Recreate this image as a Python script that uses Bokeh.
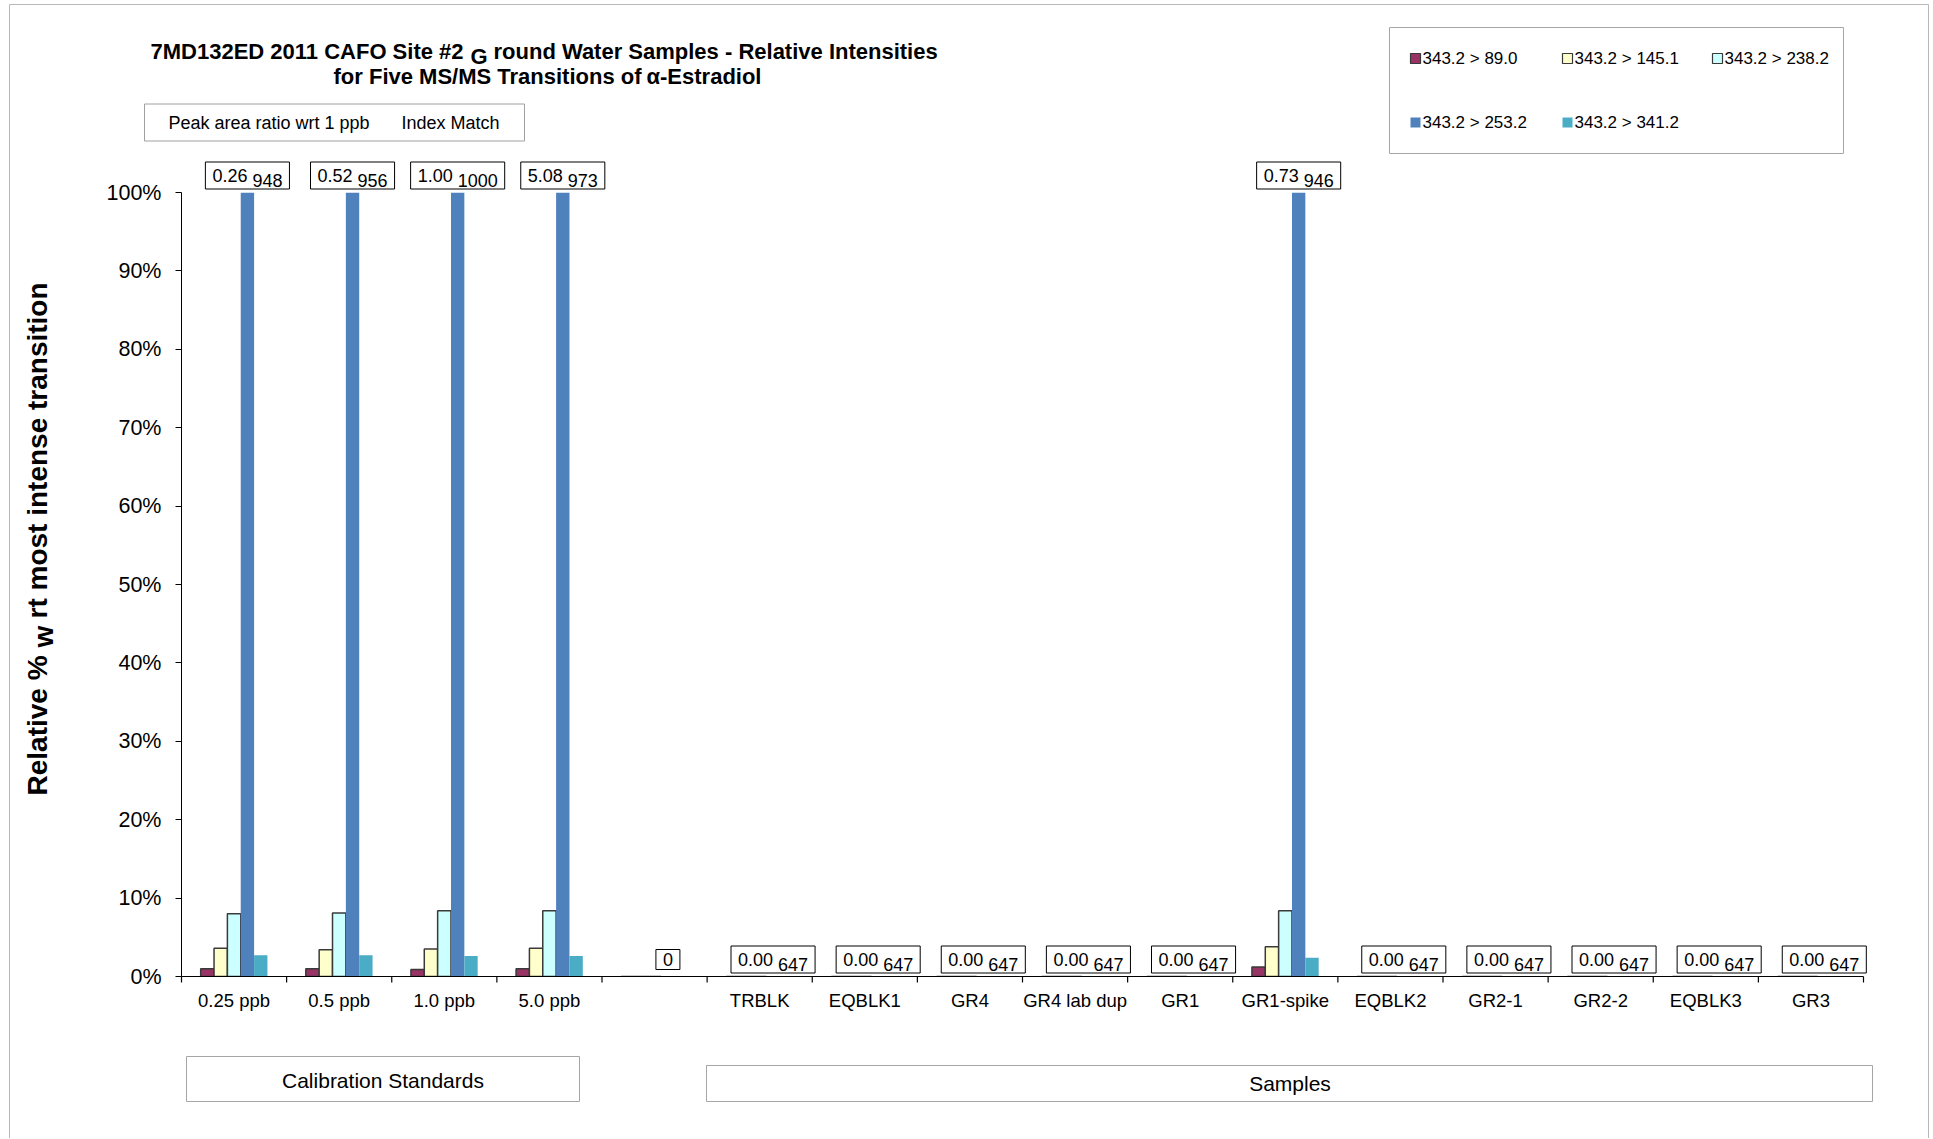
import numpy as np
from bokeh.plotting import figure
from bokeh.models import ColumnDataSource, FactorRange, Range1d, FixedTicker
from bokeh.transform import dodge
from bokeh.core.properties import value
from bokeh.embed import file_html
from bokeh.resources import INLINE

# ---------------- data ----------------
categories = ["0.25 ppb", "0.5 ppb", "1.0 ppb", "5.0 ppb", " ",
              "TRBLK", "EQBLK1", "GR4", "GR4 lab dup", "GR1", "GR1-spike",
              "EQBLK2", "GR2-1", "GR2-2", "EQBLK3", "GR3"]
series_names = ["343.2 > 89.0", "343.2 > 145.1", "343.2 > 238.2",
                "343.2 > 253.2", "343.2 > 341.2"]
s_089 = [1.0, 1.0, 0.9, 1.0, 0, 0, 0, 0, 0, 0, 1.2, 0, 0, 0, 0, 0]
s_145 = [3.6, 3.4, 3.5, 3.6, 0, 0, 0, 0, 0, 0, 3.8, 0, 0, 0, 0, 0]
s_238 = [8.0, 8.1, 8.4, 8.4, 0, 0, 0, 0, 0, 0, 8.4, 0, 0, 0, 0, 0]
s_253 = [100, 100, 100, 100, 0, 0, 0, 0, 0, 0, 100, 0, 0, 0, 0, 0]
s_341 = [2.7, 2.7, 2.6, 2.6, 0, 0, 0, 0, 0, 0, 2.4, 0, 0, 0, 0, 0]
ratio_labels = ["0.26", "0.52", "1.00", "5.08", "0", "0.00", "0.00", "0.00",
                "0.00", "0.00", "0.73", "0.00", "0.00", "0.00", "0.00", "0.00"]
index_labels = ["948", "956", "1000", "973", "", "647", "647", "647",
                "647", "647", "946", "647", "647", "647", "647", "647"]
y_ticks = [0, 10, 20, 30, 40, 50, 60, 70, 80, 90, 100]
y_tick_labels = ["0%", "10%", "20%", "30%", "40%", "50%", "60%", "70%", "80%", "90%", "100%"]

# ---------------- layout constants (page pixels) ----------------
W, H = 1932, 1138
FL, FR, FT, FB = 181, 1863, 192, 976
CATPX = (FR - FL) / len(categories)
FONT = "Liberation Sans"
BW = 0.127
LBL = 18  # value label font size

def cx(X):
    """page pixel x -> synthetic categorical coordinate"""
    return (X - FL) / CATPX

def text_w(s, size):
    wmap = {".": 0.278, " ": 0.278}
    return sum(wmap.get(c, 0.556) for c in s) * size

box_text = [(r + " " + i).strip() for r, i in zip(ratio_labels, index_labels)]
tw = [text_w(t, LBL) for t in box_text]

src = ColumnDataSource(dict(
    cat=categories, s089=s_089, s145=s_145, s238=s_238, s253=s_253, s341=s_341,
    ratio=ratio_labels, index=index_labels, boxtext=box_text,
    rx=[-w / 2 for w in tw], ix=[w / 2 for w in tw],
))

p = figure(width=W, height=H, x_range=FactorRange(*categories), y_range=Range1d(0, 100),
           output_backend="svg", toolbar_location=None,
           min_border_left=FL, min_border_right=W - FR,
           min_border_top=FT, min_border_bottom=H - FB)
# pixel-space y range for decorations (title, boxes, legend)
p.extra_y_ranges = {"px": Range1d(FB, FT)}
p.xgrid.visible = False
p.ygrid.visible = False
p.outline_line_color = None
p.background_fill_color = "white"
p.border_fill_color = "white"

# axes
yax = p.yaxis[0]
yax.ticker = FixedTicker(ticks=y_ticks)
yax.major_label_overrides = {t: l for t, l in zip(y_ticks, y_tick_labels)}
yax.major_tick_in = 0
yax.major_tick_out = 6
yax.minor_tick_line_color = None
yax.major_label_text_font = FONT
yax.major_label_text_font_size = "21.5px"
yax.major_label_text_color = "black"
yax.major_label_standoff = 14
yax.axis_line_color = "black"
yax.major_tick_line_color = "black"

xax = p.xaxis[0]
xax.major_tick_line_color = None
xax.major_tick_out = 0
xax.major_tick_in = 0
xax.major_label_standoff = 13
xax.major_label_text_font = FONT
xax.major_label_text_font_size = "18.5px"
xax.major_label_text_color = "black"
xax.axis_line_color = "black"
xax.axis_line_width = 1.2

# tick marks between categories
tick_len = 6 * 100.0 / (FB - FT)
for c_list, o in [(categories, -0.5), ([categories[-1]], 0.5)]:
    ts = ColumnDataSource(dict(cat=c_list, y0=[0] * len(c_list), y1=[-tick_len] * len(c_list)))
    p.segment(x0=dodge("cat", o, range=p.x_range), x1=dodge("cat", o, range=p.x_range),
              y0="y0", y1="y1", source=ts, line_color="black", line_width=1.2,
              level="annotation")

# bars
cols = ["s089", "s145", "s238", "s253", "s341"]
fills = ["#993366", "#FFFFCC", "#CCFFFF", "#4F81BD", "#4BACC6"]
lines = ["#3a3a3a", "#3a3a3a", "#3a3a3a", None, None]
offs = [-2 * BW, -BW, 0, BW, 2 * BW]
for c, f, l, o in zip(cols, fills, lines, offs):
    p.vbar(x=dodge("cat", o, range=p.x_range), top=c, width=BW, source=src,
           fill_color=f, line_color=l, line_width=1.5)

# value boxes above the 253.2 bars
bx = dodge("cat", BW, range=p.x_range)
p.text(x=bx, y="s253", text="boxtext", source=src, text_font=value(FONT),
       text_font_size=f"{LBL}px", text_alpha=0, text_align="center",
       text_baseline="alphabetic", x_offset=0, y_offset=-17,
       border_line_color="black", border_line_width=1, background_fill_color="white",
       padding=dict(left=5, right=9, top=4, bottom=3), level="annotation")
p.text(x=bx, y="s253", text="ratio", source=src, text_font=value(FONT),
       text_font_size=f"{LBL}px", text_color="black", text_align="left",
       text_baseline="alphabetic", x_offset="rx", y_offset=-17, level="annotation")
p.text(x=bx, y="s253", text="index", source=src, text_font=value(FONT),
       text_font_size=f"{LBL}px", text_color="black", text_align="right",
       text_baseline="alphabetic", x_offset="ix", y_offset=-12, level="annotation")

# ---------------- decorations in page-pixel space ----------------
def ptext(texts, xs, ys, size, bold=False, align="left", baseline="middle", angle=0.0):
    p.text(x=[cx(v) for v in xs], y=ys, text=texts, y_range_name="px", level="annotation",
           text_font=value(FONT), text_font_size=f"{size}px",
           text_font_style="bold" if bold else "normal",
           text_align=align, text_baseline=baseline, angle=angle, text_color="black")

def pbox(xc, yc, w, h, line="#a6a6a6"):
    p.rect(x=[cx(xc)], y=[yc], width=[w / CATPX], height=[h], y_range_name="px",
           level="annotation", fill_color="white", line_color=line, line_width=1)

# outer border
p.segment(x0=[cx(9), cx(9), cx(1928)], y0=[4, 4, 4], x1=[cx(9), cx(1928), cx(1928)],
          y1=[1139, 4, 1139], y_range_name="px", level="annotation",
          line_color="#b8b8b8", line_width=1)

# title
ptext(["7MD132ED 2011 CAFO Site #2"], [150], [50.5], 22, bold=True)
ptext(["G"], [470], [55.5], 22, bold=True)
ptext(["round Water Samples - Relative Intensities"], [493], [50.5], 22, bold=True)
ptext(["for Five MS/MS Transitions of"], [333], [76.4], 22, bold=True)
ptext(["\u03b1-Estradiol"], [646], [76.4], 22, bold=True)

# peak area box
pbox(334, 122, 380, 37, line="#a0a0a0")
ptext(["Peak area ratio wrt 1 ppb"], [168], [122], 18)
ptext(["Index Match"], [401], [122], 18)

# legend
pbox(1616, 90, 454, 126)
leg_x = [1415, 1567, 1717, 1415, 1567]
leg_y = [58, 58, 58, 122, 122]
p.rect(x=[cx(v) for v in leg_x], y=leg_y, width=10 / CATPX, height=10, y_range_name="px",
       level="annotation", fill_color=fills, line_color=["#3a3a3a"] * 3 + [None] * 2,
       line_width=1.2)
ptext(series_names, [v + 7 for v in leg_x], leg_y, 17)

# y axis title
ptext(["Relative %"], [37], [795], 28, bold=True, angle=np.pi / 2)
ptext(["w"], [43], [647], 28, bold=True, angle=np.pi / 2)
ptext(["rt most intense transition"], [37], [618], 28, bold=True, angle=np.pi / 2)

# group boxes
pbox(382.5, 1078.5, 393, 45)
ptext(["Calibration Standards"], [382.5], [1080], 21, align="center")
pbox(1289, 1083, 1166, 36)
ptext(["Samples"], [1289.5], [1083], 21, align="center")

open("out.html", "w").write(file_html(p, INLINE))
